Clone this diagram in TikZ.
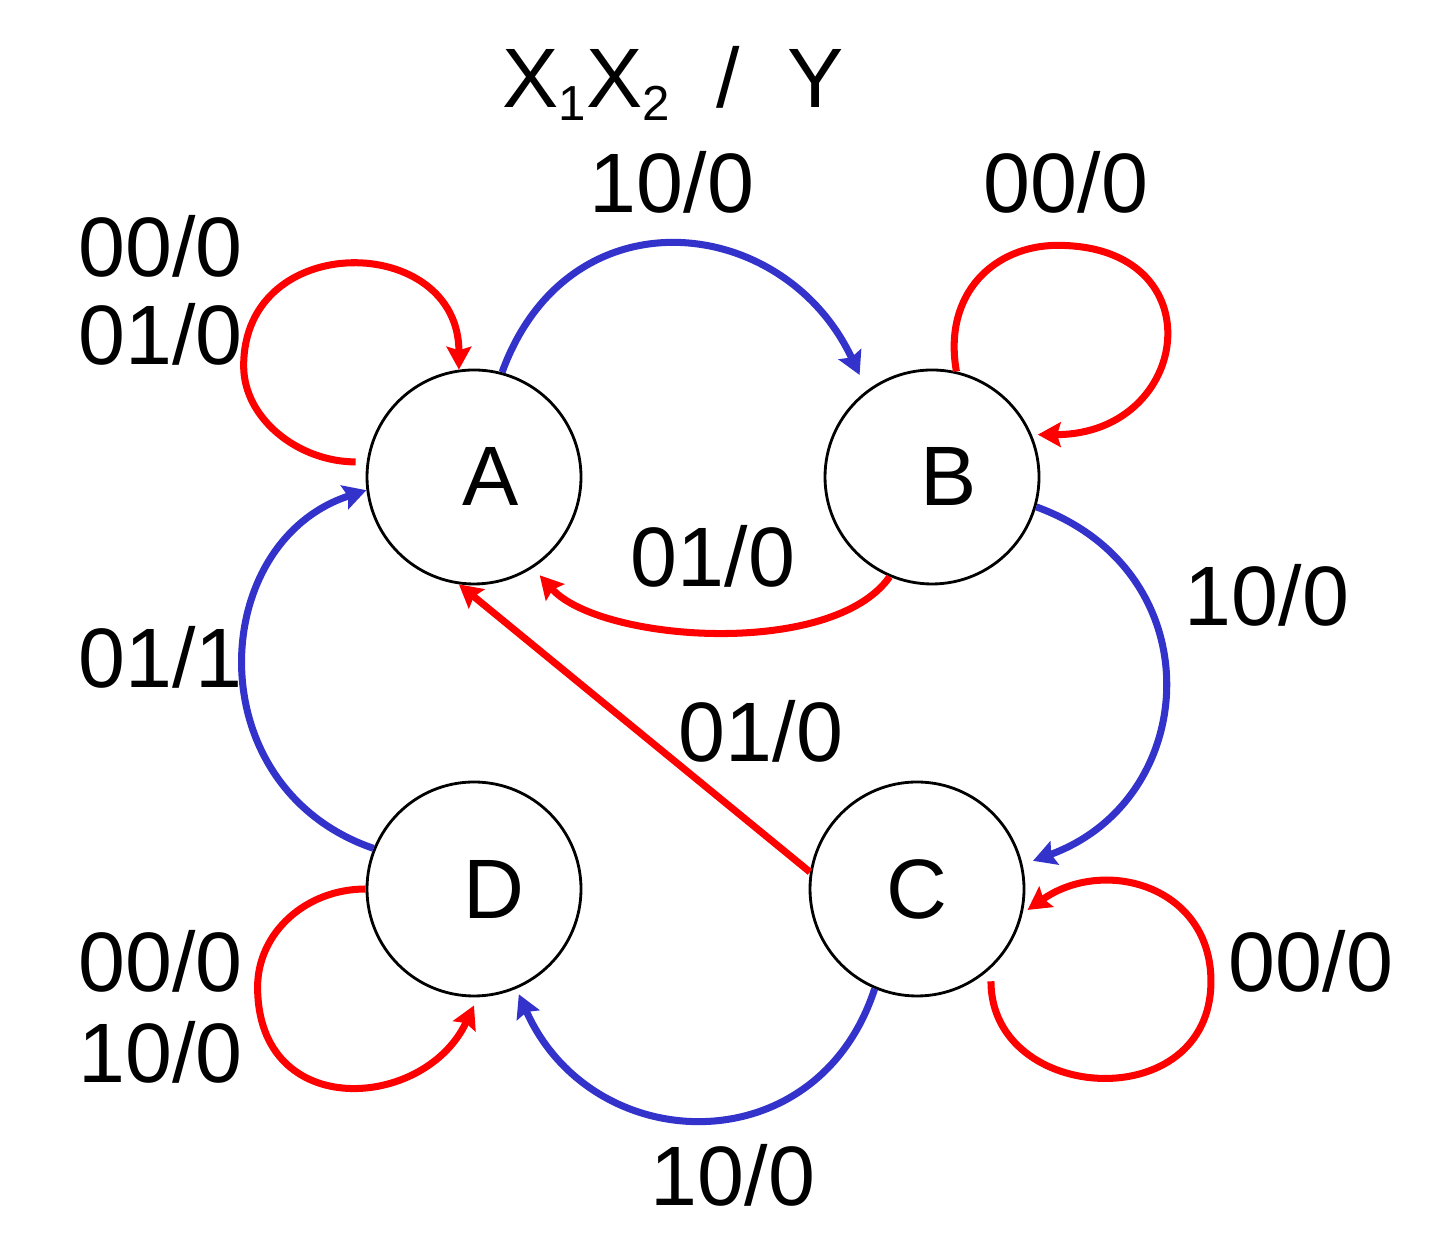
\documentclass[tikz,border=0pt]{standalone}
\usepackage{fontspec}
\setmainfont{Liberation Sans}
\usetikzlibrary{arrows.meta,positioning}

\definecolor{fsmred}{RGB}{255,0,0}
\definecolor{fsmblue}{RGB}{51,51,204}
\newcommand{\lowidx}[1]{\raisebox{-3.6pt}{\fontsize{14}{14}\selectfont #1}}

\tikzset{
    state/.style={circle, draw, line width=0.8pt, minimum size=2.14cm, inner sep=0pt, font=\fontsize{24}{28}\selectfont},
    lbl/.style={inner sep=0pt, font=\fontsize{24}{28}\selectfont},
    redarc/.style={draw=fsmred, line width=2pt},
    bluearc/.style={draw=fsmblue, line width=2pt},
    >={Stealth[length=6.5pt, width=7pt, inset=1pt]}
}

\begin{document}
\begin{tikzpicture}
    \useasboundingbox (0,0) rectangle (14.56,12.48);

    \node [state] (A) at (4.74,7.71) {\kern0.34cm A};
    \node [state] (B) [right of=A, node distance=4.58cm] {\kern0.33cm B};
    \node [state] (D) [below of=A, node distance=4.12cm] {\kern0.4cm D};
    \node [state] (C) [right of=D, node distance=4.43cm] {C};

    \node [lbl, anchor=base] (io) at (6.73,11.40) {X\lowidx{1}X\lowidx{2}~~/~~Y};

    \node [lbl, anchor=base] (l10ab) at (6.72,10.35) {10/0};
    \node [lbl, anchor=base] (l00bb) at (10.66,10.35) {00/0};
    \node [lbl, anchor=base west] (l00aa) at (0.78,9.71) {00/0};
    \node [lbl, anchor=base west] (l01aa) at (0.78,8.83) {01/0};
    \node [lbl, anchor=base] (l01ba) at (7.13,6.61) {01/0};
    \node [lbl, anchor=base] (l10bc) at (12.67,6.22) {10/0};
    \node [lbl, anchor=base west] (l01da) at (0.78,5.60) {01/1};
    \node [lbl, anchor=base] (l01ca) at (7.61,4.86) {01/0};
    \node [lbl, anchor=base west] (l00dd) at (0.78,2.56) {00/0};
    \node [lbl, anchor=base west] (l10dd) at (0.78,1.65) {10/0};
    \node [lbl, anchor=base] (l00cc) at (13.11,2.56) {00/0};
    \node [lbl, anchor=base] (l10cd) at (7.33,0.42) {10/0};

    % self loops
    \draw[->, redarc, shorten <=0.11cm] (A.172) to [out=180, in=270, out distance=0.68cm, in distance=0.53cm] ++(-1.23,0.96)
        to [out=90, in=90, distance=1.37cm] (A.98);
    \draw[->, redarc, shorten >=0.06cm] (B.77) to [out=100, in=180, out distance=0.8cm, in distance=0.62cm] ++(1.01,1.26)
        to [out=0, in=0, distance=1.6cm] (B.23);
    \draw[->, redarc, shorten <=0.13cm, shorten >=0.06cm] (C.313) to [out=270, in=270, distance=1.36cm] ++(2.2,-0.13)
        to [out=90, in=35, out distance=0.95cm, in distance=1cm] (C.347);
    \draw[->, redarc, shorten >=0.09cm] (D.180) to [out=180, in=90, out distance=0.6cm, in distance=0.54cm] ++(-1.08,-0.98)
        to [out=270, in=245, out distance=1.35cm, in distance=1.25cm] (D.272);

    % transitions
    \path[->] (A.75) edge [bluearc, out=70, in=115, distance=1.95cm, shorten >=0.17cm] (B.127);
    \path[->] (B.247) edge [redarc, out=235, in=312, distance=1cm, shorten >=0.1cm] (A.303);
    \path[->] (B.344) edge [bluearc, out=340, in=20, distance=1.9cm, shorten >=0.11cm] (C.13);
    \path[->] (C.171) edge [redarc] (A.262);
    \path[->] (C.247) edge [bluearc, out=252, in=294, distance=1.86cm, shorten >=0.06cm] (D.293);
    \path[->] (D.158) edge [bluearc, out=161, in=198, out distance=1.88cm, in distance=1.67cm] (A.187);
\end{tikzpicture}
\end{document}
